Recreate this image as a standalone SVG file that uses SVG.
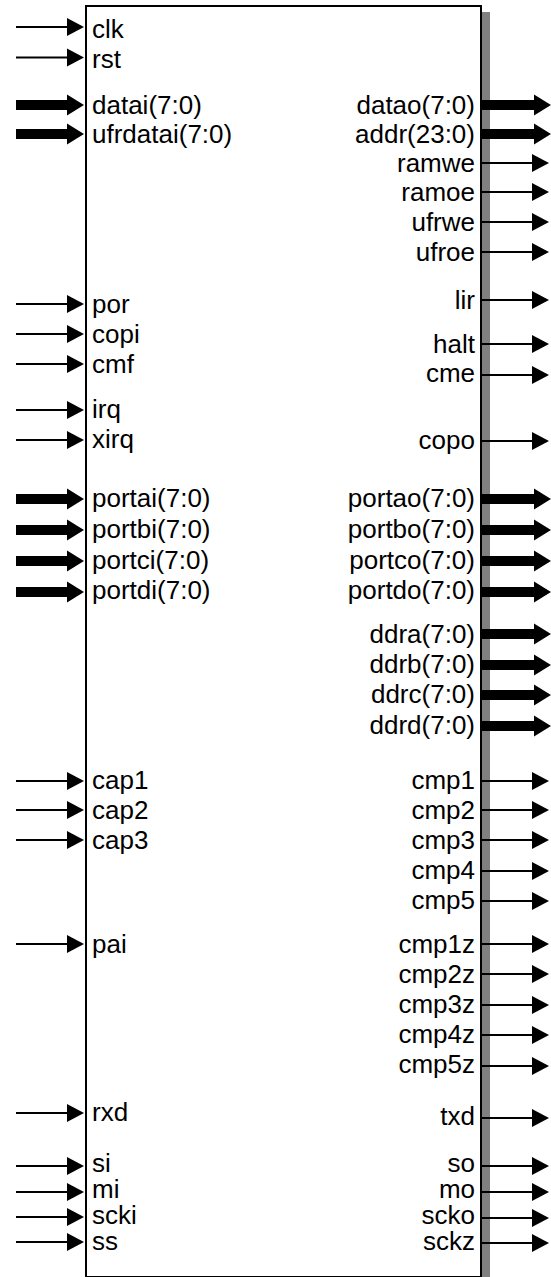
<svg xmlns="http://www.w3.org/2000/svg" width="551" height="1277" viewBox="0 0 551 1277">
<style>
text{font-family:"Liberation Sans",Arial,sans-serif;font-size:26px;fill:#000}
.l{text-anchor:start}
.r{text-anchor:end}
.s{stroke:#000;stroke-width:2;fill:none}
.b{stroke:#000;stroke-width:10;fill:none}
.si{marker-end:url(#ah)}
.bi{marker-end:url(#bh)}
</style>
<defs>
<marker id="ah" markerUnits="userSpaceOnUse" markerWidth="18" markerHeight="18" refX="0" refY="9" orient="auto" overflow="visible"><path d="M0,0 L17,9 L0,18 Z" fill="#000"/></marker>
<marker id="bh" markerUnits="userSpaceOnUse" markerWidth="18" markerHeight="22" refX="0" refY="10.5" orient="auto" overflow="visible"><path d="M0,0 L17,10.5 L0,21 Z" fill="#000"/></marker>
</defs>
<rect width="551" height="1277" fill="#fff"/>
<g id="block">
<rect x="482" y="12" width="8" height="1266" fill="#808080"/>
<rect x="86" y="6" width="395" height="1271" fill="none" stroke="#000" stroke-width="2"/>
</g>
<g id="connectors">
<line class="s si" x1="16" y1="27" x2="67" y2="27"/>
<line class="s si" x1="16" y1="57.5" x2="67" y2="57.5"/>
<line class="b bi" x1="16" y1="105" x2="67" y2="105"/>
<line class="b bi" x1="16" y1="134" x2="67" y2="134"/>
<line class="s si" x1="16" y1="304" x2="67" y2="304"/>
<line class="s si" x1="16" y1="334" x2="67" y2="334"/>
<line class="s si" x1="16" y1="364" x2="67" y2="364"/>
<line class="s si" x1="16" y1="410" x2="67" y2="410"/>
<line class="s si" x1="16" y1="440" x2="67" y2="440"/>
<line class="b bi" x1="16" y1="499" x2="67" y2="499"/>
<line class="b bi" x1="16" y1="530" x2="67" y2="530"/>
<line class="b bi" x1="16" y1="561" x2="67" y2="561"/>
<line class="b bi" x1="16" y1="592" x2="67" y2="592"/>
<line class="s si" x1="16" y1="781" x2="67" y2="781"/>
<line class="s si" x1="16" y1="810" x2="67" y2="810"/>
<line class="s si" x1="16" y1="840" x2="67" y2="840"/>
<line class="s si" x1="16" y1="944" x2="67" y2="944"/>
<line class="s si" x1="16" y1="1113" x2="67" y2="1113"/>
<line class="s si" x1="16" y1="1166" x2="67" y2="1166"/>
<line class="s si" x1="16" y1="1192" x2="67" y2="1192"/>
<line class="s si" x1="16" y1="1217" x2="67" y2="1217"/>
<line class="s si" x1="16" y1="1242" x2="67" y2="1242"/>

<line class="b bi" x1="482" y1="105" x2="534" y2="105"/>
<line class="b bi" x1="482" y1="134" x2="534" y2="134"/>
<line class="s si" x1="482" y1="163" x2="532" y2="163"/>
<line class="s si" x1="482" y1="192" x2="532" y2="192"/>
<line class="s si" x1="482" y1="222" x2="532" y2="222"/>
<line class="s si" x1="482" y1="252" x2="532" y2="252"/>
<line class="s si" x1="482" y1="300" x2="532" y2="300"/>
<line class="s si" x1="482" y1="344" x2="532" y2="344"/>
<line class="s si" x1="482" y1="375" x2="532" y2="375"/>
<line class="s si" x1="482" y1="441" x2="532" y2="441"/>
<line class="b bi" x1="482" y1="499" x2="534" y2="499"/>
<line class="b bi" x1="482" y1="530" x2="534" y2="530"/>
<line class="b bi" x1="482" y1="561" x2="534" y2="561"/>
<line class="b bi" x1="482" y1="592" x2="534" y2="592"/>
<line class="b bi" x1="482" y1="634" x2="534" y2="634"/>
<line class="b bi" x1="482" y1="665" x2="534" y2="665"/>
<line class="b bi" x1="482" y1="695" x2="534" y2="695"/>
<line class="b bi" x1="482" y1="726" x2="534" y2="726"/>
<line class="s si" x1="482" y1="781" x2="532" y2="781"/>
<line class="s si" x1="482" y1="810" x2="532" y2="810"/>
<line class="s si" x1="482" y1="840" x2="532" y2="840"/>
<line class="s si" x1="482" y1="871" x2="532" y2="871"/>
<line class="s si" x1="482" y1="901" x2="532" y2="901"/>
<line class="s si" x1="482" y1="944" x2="532" y2="944"/>
<line class="s si" x1="482" y1="974" x2="532" y2="974"/>
<line class="s si" x1="482" y1="1005" x2="532" y2="1005"/>
<line class="s si" x1="482" y1="1035" x2="532" y2="1035"/>
<line class="s si" x1="482" y1="1066" x2="532" y2="1066"/>
<line class="s si" x1="482" y1="1118" x2="532" y2="1118"/>
<line class="s si" x1="482" y1="1166" x2="532" y2="1166"/>
<line class="s si" x1="482" y1="1192" x2="532" y2="1192"/>
<line class="s si" x1="482" y1="1218" x2="532" y2="1218"/>
<line class="s si" x1="482" y1="1243" x2="532" y2="1243"/>
</g>
<g id="labels">
<text class="l" x="92" y="38">clk</text>
<text class="l" x="92" y="68">rst</text>
<text class="l" x="92" y="114">datai(7:0)</text>
<text class="l" x="92" y="143">ufrdatai(7:0)</text>
<text class="l" x="92" y="313">por</text>
<text class="l" x="92" y="343">copi</text>
<text class="l" x="92" y="373">cmf</text>
<text class="l" x="92" y="418">irq</text>
<text class="l" x="92" y="448">xirq</text>
<text class="l" x="92" y="507">portai(7:0)</text>
<text class="l" x="92" y="538">portbi(7:0)</text>
<text class="l" x="92" y="569">portci(7:0)</text>
<text class="l" x="92" y="599">portdi(7:0)</text>
<text class="l" x="92" y="789">cap1</text>
<text class="l" x="92" y="819">cap2</text>
<text class="l" x="92" y="849">cap3</text>
<text class="l" x="92" y="953">pai</text>
<text class="l" x="92" y="1121">rxd</text>
<text class="l" x="92" y="1172">si</text>
<text class="l" x="92" y="1198">mi</text>
<text class="l" x="92" y="1224">scki</text>
<text class="l" x="92" y="1250">ss</text>

<text class="r" x="475" y="114">datao(7:0)</text>
<text class="r" x="475" y="143">addr(23:0)</text>
<text class="r" x="475" y="172">ramwe</text>
<text class="r" x="475" y="201">ramoe</text>
<text class="r" x="475" y="231">ufrwe</text>
<text class="r" x="475" y="261">ufroe</text>
<text class="r" x="475" y="309">lir</text>
<text class="r" x="475" y="353">halt</text>
<text class="r" x="475" y="382">cme</text>
<text class="r" x="475" y="449">copo</text>
<text class="r" x="475" y="507">portao(7:0)</text>
<text class="r" x="475" y="538">portbo(7:0)</text>
<text class="r" x="475" y="569">portco(7:0)</text>
<text class="r" x="475" y="599">portdo(7:0)</text>
<text class="r" x="475" y="643">ddra(7:0)</text>
<text class="r" x="475" y="673">ddrb(7:0)</text>
<text class="r" x="475" y="703">ddrc(7:0)</text>
<text class="r" x="475" y="734">ddrd(7:0)</text>
<text class="r" x="475" y="789">cmp1</text>
<text class="r" x="475" y="819">cmp2</text>
<text class="r" x="475" y="849">cmp3</text>
<text class="r" x="475" y="879">cmp4</text>
<text class="r" x="475" y="909">cmp5</text>
<text class="r" x="475" y="953">cmp1z</text>
<text class="r" x="475" y="983">cmp2z</text>
<text class="r" x="475" y="1013">cmp3z</text>
<text class="r" x="475" y="1043">cmp4z</text>
<text class="r" x="475" y="1073">cmp5z</text>
<text class="r" x="475" y="1125">txd</text>
<text class="r" x="475" y="1172">so</text>
<text class="r" x="475" y="1198">mo</text>
<text class="r" x="475" y="1224">scko</text>
<text class="r" x="475" y="1250">sckz</text>
</g>
</svg>
